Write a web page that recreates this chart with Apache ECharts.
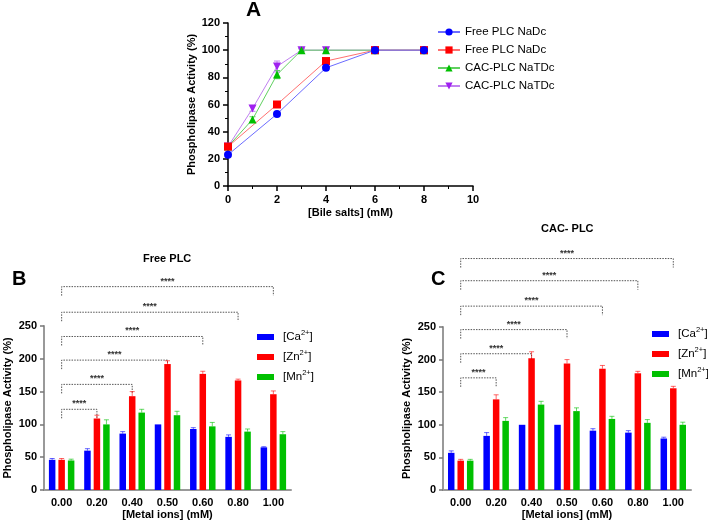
<!DOCTYPE html>
<html>
<head>
<meta charset="utf-8">
<script src="https://cdn.jsdelivr.net/npm/echarts@6/dist/echarts.min.js"></script>
<style>
html, body { margin: 0; padding: 0; background: #fff; }
#chart { width: 708px; height: 522px; }
</style>
</head>
<body>
<div id="chart"></div>
<script>
// ---- panel A : bile salts ----
var aLabels = ['Free PLC NaDc', 'Free PLC NaDc', 'CAC-PLC NaTDc', 'CAC-PLC NaTDc'];
var aXFree = [0, 2, 4, 6, 8];
var aFree1 = [23, 53, 87, 100, 100];
var aFree1Err = [1, 1, 2, 0, 0];
var aFree2 = [29, 60, 92, 100, 100];
var aFree2Err = [1, 2, 2, 0, 0];
var aXCac = [0, 1, 2, 3, 4, 6, 8];
var aCac1 = [29, 49, 82, 100, 100, 100, 100];
var aCac1Err = [1, 2, 3, 1, 0, 0, 0];
var aCac2 = [29, 57, 88, 100, 100, 100, 100];
var aCac2Err = [1, 2, 4, 1, 1, 0, 0];

// ---- panels B / C : metal ions ----
var metalCats = ['0.00', '0.20', '0.40', '0.50', '0.60', '0.80', '1.00'];
var ions = ['Ca', 'Zn', 'Mn'];

var bCa = [46, 60, 86, 100, 93, 81, 65];
var bCaErr = [2, 3, 3, 0, 2, 3, 1];
var bZn = [46, 109, 143, 192, 177, 167, 146];
var bZnErr = [2, 5, 7, 5, 4, 2, 5];
var bMn = [45, 100, 118, 114, 97, 89, 85];
var bMnErr = [2, 7, 5, 6, 6, 4, 4];
// significance brackets: [from category, to category, level]
var bSig = [[0, 1, 123], [0, 2, 161], [0, 3, 198], [0, 4, 234], [0, 5, 271], [0, 6, 310]];

var cCa = [57, 83, 100, 100, 91, 88, 79];
var cCaErr = [3, 5, 0, 0, 3, 3, 2];
var cZn = [45, 139, 202, 194, 186, 179, 156];
var cZnErr = [2, 7, 10, 6, 5, 3, 3];
var cMn = [45, 106, 131, 121, 109, 103, 100];
var cMnErr = [2, 5, 5, 5, 4, 5, 4];
var cSig = [[0, 1, 172], [0, 2, 209], [0, 3, 246], [0, 4, 282], [0, 5, 321], [0, 6, 355]];

var FONT = 'Liberation Sans, Arial, sans-serif';
var ionColors = ['#0000ff', '#ff0000', '#00c000'];
var BAR_W = 6.5;
var BAR_STEP = 9.5;

function pairs(xs, ys) {
	return xs.map(function(x, i) { return [x, ys[i]]; });
}
function triples(xs, ys, es) {
	return xs.map(function(x, i) { return [x, ys[i], es[i]]; });
}

function pointErr(color) {
	return function(params, api) {
		var e = api.value(2);
		if (!e) return;
		var x = api.value(0), y = api.value(1);
		var lo = api.coord([x, y - e]), hi = api.coord([x, y + e]);
		var st = { stroke: color, lineWidth: 1 };
		return { type: 'group', children: [
			{ type: 'line', shape: { x1: lo[0], y1: lo[1], x2: hi[0], y2: hi[1] }, style: st },
			{ type: 'line', shape: { x1: hi[0] - 3, y1: hi[1], x2: hi[0] + 3, y2: hi[1] }, style: st },
			{ type: 'line', shape: { x1: lo[0] - 3, y1: lo[1], x2: lo[0] + 3, y2: lo[1] }, style: st }
		] };
	};
}

function barErr(slot) {
	return function(params, api) {
		var e = api.value(2);
		if (!e) return;
		var base = api.coord([api.value(0), api.value(1)]);
		var top = api.coord([api.value(0), api.value(1) + e]);
		var cx = base[0] + (slot - 1) * BAR_STEP;
		var st = { stroke: ionColors[slot], lineWidth: 1, opacity: 0.6 };
		return { type: 'group', children: [
			{ type: 'line', shape: { x1: cx, y1: base[1], x2: cx, y2: top[1] }, style: st },
			{ type: 'line', shape: { x1: cx - 2.5, y1: top[1], x2: cx + 2.5, y2: top[1] }, style: st }
		] };
	};
}

function sigRender(params, api) {
	var lvl = api.value(2);
	var p1 = api.coord([api.value(0), lvl]);
	var p2 = api.coord([api.value(1), lvl]);
	return { type: 'group', children: [
		{ type: 'polyline', shape: { points: [[p1[0], p1[1] + 9], [p1[0], p1[1]], [p2[0], p2[1]], [p2[0], p2[1] + 9]] },
			style: { stroke: '#555', lineWidth: 1, lineDash: [1.5, 1.2], fill: null } },
		{ type: 'text', x: (p1[0] + p2[0]) / 2, y: p1[1] - 1,
			style: { text: '****', fill: '#333', font: 'bold 9px ' + FONT, align: 'center', verticalAlign: 'bottom' } }
	] };
}

var labelStyle = { color: '#000', fontFamily: FONT, fontWeight: 'bold', fontSize: 11 };
var nameStyle = { color: '#000', fontFamily: FONT, fontWeight: 'bold', fontSize: 11 };

function metalX(grid) {
	return {
		gridIndex: grid, type: 'category', data: metalCats,
		name: '[Metal ions] (mM)', nameLocation: 'middle', nameGap: 19, nameTextStyle: nameStyle,
		axisLine: { lineStyle: { color: '#999', width: 2 } },
		axisTick: { alignWithLabel: true, length: 4, lineStyle: { color: '#777', width: 1.5 } },
		axisLabel: Object.assign({ margin: 7 }, labelStyle)
	};
}
function metalY(grid) {
	return {
		gridIndex: grid, type: 'value', min: 0, max: 250, interval: 50,
		name: 'Phospholipase Activity (%)', nameLocation: 'middle', nameGap: 31, nameTextStyle: nameStyle,
		axisLine: { show: true, lineStyle: { color: '#999', width: 2 } },
		axisTick: { show: true, length: 4, lineStyle: { color: '#777', width: 1.5 } },
		axisLabel: Object.assign({ margin: 7 }, labelStyle),
		splitLine: { show: false }
	};
}

function ionLegend(left, top, grid) {
	return {
		left: left, top: top, padding: 0, orient: 'vertical', itemWidth: 17, itemHeight: 6, itemGap: 4,
		icon: 'rect', data: ions.map(function(n) { return n + grid; }),
		formatter: function(n) { return '[' + n.replace(/\d$/, '') + '{s|2+}]'; },
		textStyle: { fontFamily: FONT, fontSize: 11.5, color: '#000', lineHeight: 16, padding: [0, 0, 0, 4],
			rich: { s: { fontFamily: FONT, fontSize: 7.5, lineHeight: 8, verticalAlign: 'top', color: '#000' } } }
	};
}

function metalSeries(grid, vals, errs, sig) {
	var out = [];
	ions.forEach(function(ion, i) {
		out.push({
			name: ion + grid, type: 'bar', xAxisIndex: grid, yAxisIndex: grid,
			data: vals[i], barWidth: BAR_W, barGap: '46%', itemStyle: { color: ionColors[i] }
		});
	});
	ions.forEach(function(ion, i) {
		out.push({
			type: 'custom', xAxisIndex: grid, yAxisIndex: grid, z: 3,
			data: triples(metalCats.map(function(c, k) { return k; }), vals[i], errs[i]),
			renderItem: barErr(i), encode: { x: 0, y: 1 }, silent: true
		});
	});
	out.push({
		type: 'custom', xAxisIndex: grid, yAxisIndex: grid, clip: false, silent: true,
		data: sig, renderItem: sigRender, encode: { x: [0, 1], y: 2 }
	});
	return out;
}

var aColors = ['#0000ff', '#ff0000', '#00c000', '#a020f0'];
var aLines = ['#6c6cff', '#ff7070', '#60d060', '#c080f0'];
var aSymbols = ['circle', 'rect', 'triangle', 'triangle'];
var aX = [aXFree, aXFree, aXCac, aXCac];
var aY = [aFree1, aFree2, aCac1, aCac2];
var aE = [aFree1Err, aFree2Err, aCac1Err, aCac2Err];
var aKeys = ['a1', 'a2', 'a3', 'a4'];

var seriesA = [];
// draw order: purple, green, red, blue (blue on top)
[3, 2, 1, 0].forEach(function(i) {
	seriesA.push({
		name: aKeys[i], type: 'line', xAxisIndex: 0, yAxisIndex: 0,
		data: pairs(aX[i], aY[i]), symbol: aSymbols[i], symbolRotate: i === 3 ? 180 : 0,
		symbolSize: 8, color: aColors[i],
		lineStyle: { color: aLines[i], width: 1 }, itemStyle: { color: aColors[i] }
	});
	seriesA.push({
		type: 'custom', xAxisIndex: 0, yAxisIndex: 0, silent: true,
		data: triples(aX[i], aY[i], aE[i]), renderItem: pointErr(aLines[i]), encode: { x: 0, y: 1 }
	});
});

var chart = echarts.init(document.getElementById('chart'));
var option = {
	backgroundColor: '#fff',
	animation: false,
	title: [
		{ text: 'A', left: 246, top: 0, padding: 0, textStyle: { fontFamily: FONT, fontWeight: 'bold', fontSize: 21, color: '#000' } },
		{ text: 'B', left: 12, top: 269, padding: 0, textStyle: { fontFamily: FONT, fontWeight: 'bold', fontSize: 20, color: '#000' } },
		{ text: 'C', left: 431, top: 269, padding: 0, textStyle: { fontFamily: FONT, fontWeight: 'bold', fontSize: 20, color: '#000' } },
		{ text: 'Free PLC', left: 143, top: 253, padding: 0, textStyle: { fontFamily: FONT, fontWeight: 'bold', fontSize: 11, color: '#000' } },
		{ text: 'CAC- PLC', left: 541, top: 223, padding: 0, textStyle: { fontFamily: FONT, fontWeight: 'bold', fontSize: 11, color: '#000' } }
	],
	legend: [
		{
			left: 437, top: 25, padding: 0, orient: 'vertical', itemWidth: 22, itemHeight: 9, itemGap: 4,
			data: aKeys,
			formatter: function(n) { return aLabels[aKeys.indexOf(n)]; },
			textStyle: { fontFamily: FONT, fontSize: 11.5, color: '#000', lineHeight: 14 }
		},
		ionLegend(257, 329, 1),
		ionLegend(652, 326, 2)
	],
	grid: [
		{ left: 228, top: 23, width: 245, height: 163 },
		{ left: 44, top: 326, width: 247, height: 164 },
		{ left: 443, top: 327, width: 248, height: 163 }
	],
	xAxis: [
		{
			gridIndex: 0, type: 'value', min: 0, max: 10, interval: 2,
			name: '[Bile salts] (mM)', nameLocation: 'middle', nameGap: 21, nameTextStyle: nameStyle,
			axisLine: { lineStyle: { color: '#000', width: 1.5 } },
			axisTick: { length: 5, lineStyle: { color: '#000', width: 1.5 } },
			minorTick: { show: true, splitNumber: 2, length: 3, lineStyle: { color: '#000', width: 1 } },
			axisLabel: Object.assign({ margin: 8 }, labelStyle),
			splitLine: { show: false }
		},
		metalX(1),
		metalX(2)
	],
	yAxis: [
		{
			gridIndex: 0, type: 'value', min: 0, max: 120, interval: 20,
			name: 'Phospholipase Activity (%)', nameLocation: 'middle', nameGap: 25, nameTextStyle: nameStyle,
			axisLine: { show: true, lineStyle: { color: '#000', width: 1.5 } },
			axisTick: { show: true, length: 5, lineStyle: { color: '#000', width: 1.5 } },
			minorTick: { show: true, splitNumber: 2, length: 3, lineStyle: { color: '#000', width: 1 } },
			axisLabel: Object.assign({ margin: 8 }, labelStyle),
			splitLine: { show: false }
		},
		metalY(1),
		metalY(2)
	],
	series: seriesA
		.concat(metalSeries(1, [bCa, bZn, bMn], [bCaErr, bZnErr, bMnErr], bSig))
		.concat(metalSeries(2, [cCa, cZn, cMn], [cCaErr, cZnErr, cMnErr], cSig))
};
chart.setOption(option);

window.onresize = function() {
	chart.resize();
};
</script>
</body>
</html>
